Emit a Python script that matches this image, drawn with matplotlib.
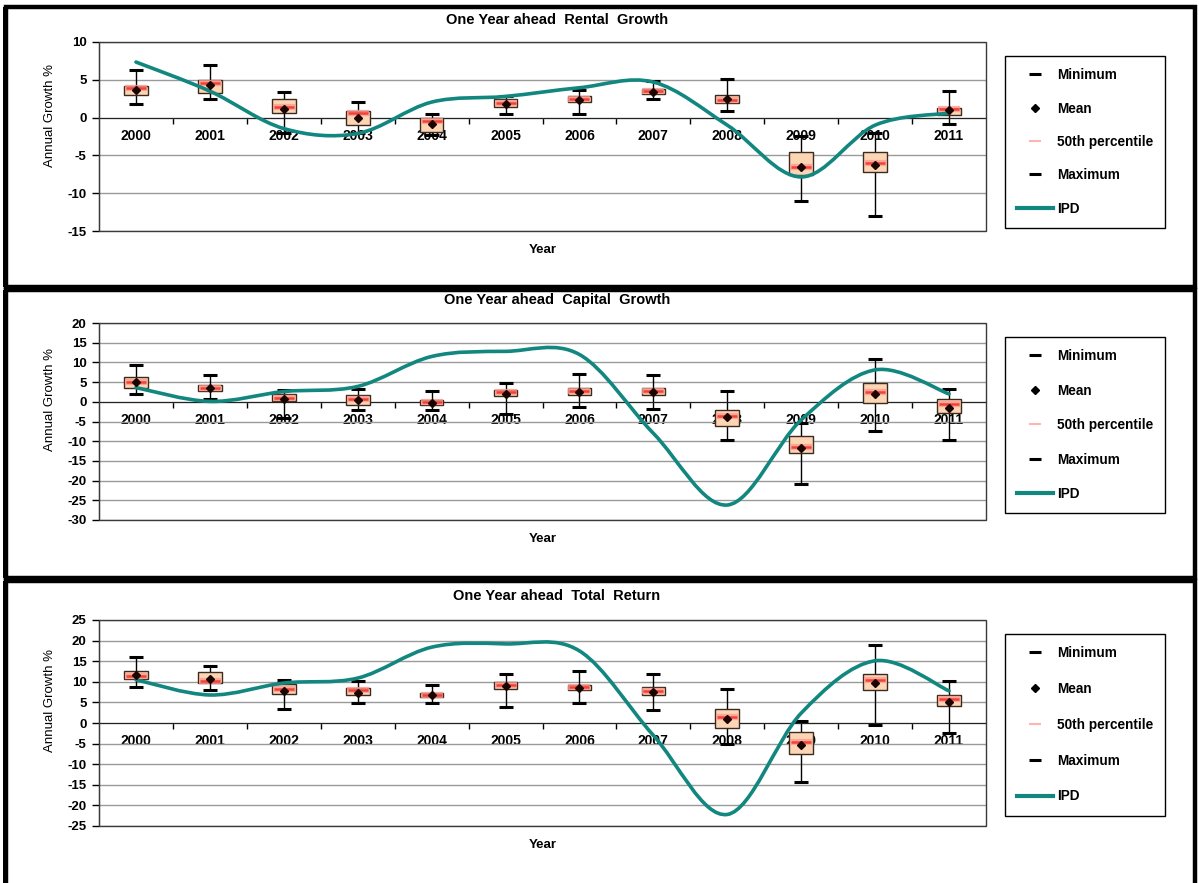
import numpy as np
import matplotlib
matplotlib.use("Agg")
import matplotlib.pyplot as plt
from matplotlib.path import Path
from matplotlib.patches import PathPatch, Rectangle
from matplotlib.lines import Line2D
from matplotlib import font_manager

# Data
years = ["2000", "2001", "2002", "2003", "2004", "2005",
         "2006", "2007", "2008", "2009", "2010", "2011"]

# Rental growth
rent_min  = [1.85, 2.4, -2.1, -2.0, -2.3, 0.45, 0.45, 2.4, 0.93, -11.0, -13.0, -0.9]
rent_q1   = [2.95, 3.3, 0.66, -0.97, -1.9, 1.4, 2.0, 3.1, 1.95, -7.6, -7.2, 0.35]
rent_med  = [3.9, 4.55, 1.45, 0.6, -0.5, 1.9, 2.4, 3.5, 2.3, -6.6, -6.0, 1.1]
rent_mean = [3.7, 4.3, 1.15, 0.0, -0.8, 1.85, 2.3, 3.45, 2.45, -6.5, -6.3, 1.0]
rent_q3   = [4.15, 5.0, 2.4, 0.85, -0.1, 2.4, 2.85, 3.8, 2.95, -4.5, -4.6, 1.3]
rent_max  = [6.35, 7.0, 3.35, 2.0, 0.53, 2.9, 3.6, 4.85, 5.1, -2.4, -2.0, 3.5]
rent_ipd  = [7.35, 3.5, -1.45, -2.1, 2.05, 2.8, 3.95, 4.7, -1.0, -7.85, -1.0, 0.6]

# Capital growth
cap_min  = [1.86, 0.8, -4.2, -2.2, -2.2, -3.1, -1.3, -1.8, -9.6, -20.8, -7.4, -9.6]
cap_q1   = [3.5, 2.8, 0.1, -0.85, -0.85, 1.45, 1.6, 1.6, -6.2, -13.1, -0.2, -2.9]
cap_med  = [5.0, 3.5, 0.9, 0.7, -0.1, 2.5, 2.7, 2.8, -3.5, -11.4, 2.4, -0.5]
cap_mean = [4.9, 3.4, 0.8, 0.4, -0.2, 2.1, 2.6, 2.5, -3.9, -11.6, 2.1, -1.6]
cap_q3   = [6.2, 4.2, 2.0, 1.6, 0.35, 3.1, 3.4, 3.5, -2.2, -8.6, 4.8, 0.6]
cap_max  = [9.3, 6.9, 3.05, 3.2, 2.8, 4.8, 7.0, 6.9, 2.8, -5.3, 10.8, 3.2]
cap_ipd  = [3.6, 0.1, 2.6, 3.9, 11.5, 12.8, 12.0, -8.0, -26.2, -4.6, 8.1, 2.0]

# Total return
tot_min  = [8.7, 7.9, 3.4, 4.8, 4.8, 4.0, 4.8, 3.2, -5.0, -14.3, -0.6, -2.4]
tot_q1   = [10.6, 9.7, 7.0, 6.7, 6.25, 8.2, 8.0, 6.7, -1.2, -7.6, 7.9, 4.2]
tot_med  = [11.3, 10.1, 8.2, 7.9, 6.9, 9.2, 8.7, 7.8, 1.4, -4.7, 10.4, 5.9]
tot_mean = [11.7, 10.7, 7.8, 7.4, 6.8, 9.0, 8.6, 7.5, 0.9, -5.4, 9.7, 5.0]
tot_q3   = [12.7, 12.3, 9.5, 8.6, 7.4, 10.0, 9.3, 8.8, 3.3, -2.1, 12.0, 6.9]
tot_max  = [16.1, 13.9, 10.5, 10.3, 9.3, 11.9, 12.7, 11.8, 8.2, 0.6, 18.9, 10.3]
tot_ipd  = [10.5, 6.8, 9.7, 10.9, 18.4, 19.2, 17.5, -3.0, -22.2, 2.4, 15.1, 7.8]

titles = ["One Year ahead  Rental  Growth",
          "One Year ahead  Capital  Growth",
          "One Year ahead  Total  Return"]
ylims = [(-15, 10), (-30, 20), (-25, 25)]

W, H = 1199, 883
TEAL = "#12877F"
PEACH = "#FCD5B4"

avail = {f.name for f in font_manager.fontManager.ttflist}
NARROW = "Liberation Sans Narrow" if "Liberation Sans Narrow" in avail else "Liberation Sans"
plt.rcParams["font.family"] = ["Liberation Sans", "DejaVu Sans"]
plt.rcParams["font.weight"] = "bold"
plt.rcParams["axes.unicode_minus"] = False


def fx(px):
    return px / W


def fy(py):
    return 1 - py / H


# Excel style smoothed line as bezier path
def smooth_path(xs, ys):
    pts = np.column_stack([xs, ys]).astype(float)
    n = len(pts)
    verts = [pts[0]]
    codes = [Path.MOVETO]
    for i in range(n - 1):
        p0 = pts[i - 1] if i > 0 else pts[i]
        p1 = pts[i]
        p2 = pts[i + 1]
        p3 = pts[i + 2] if i + 2 < n else pts[i + 1]
        verts += [p1 + (p2 - p0) / 6, p2 - (p3 - p1) / 6, p2]
        codes += [Path.CURVE4] * 3
    return Path(verts, codes)


fig = plt.figure(figsize=(W / 100, H / 100), dpi=100)

# pixel layout of each panel: frame top/bottom, plot top/bottom, title y, legend top
panels = [
    dict(frame=(7, 287), plot=(42, 231), title=20, leg=56, spacing=1.42),
    dict(frame=(290, 578), plot=(323, 520), title=300, leg=337, spacing=1.5),
    dict(frame=(581, 900), plot=(620, 826), title=596, leg=634, spacing=1.6),
]
series = [
    (rent_min, rent_q1, rent_med, rent_mean, rent_q3, rent_max, rent_ipd),
    (cap_min, cap_q1, cap_med, cap_mean, cap_q3, cap_max, cap_ipd),
    (tot_min, tot_q1, tot_med, tot_mean, tot_q3, tot_max, tot_ipd),
]

x = np.arange(len(years))
ax_left, ax_right = 99, 986

for k, p in enumerate(panels):
    f0, f1 = p["frame"]
    # panel frame
    fig.add_artist(Rectangle((fx(6), fy(f1)), fx(1195) - fx(6), (f1 - f0) / H,
                             transform=fig.transFigure, fill=False,
                             ec="black", lw=3.2))
    fig.add_artist(Rectangle((fx(3), fy(f1)), fx(5), (f1 - f0) / H,
                             transform=fig.transFigure, fc="black", ec="none"))

    t0, t1 = p["plot"]
    ax = fig.add_axes([fx(ax_left), fy(t1), fx(ax_right) - fx(ax_left), (t1 - t0) / H])
    mn, q1, med, mean, q3, mx, ipd = [np.array(s) for s in series[k]]

    ax.set_axisbelow(True)
    ax.yaxis.grid(True, color="#9A9A9A", lw=1)

    ax.vlines(x, mn, mx, color="black", lw=1, zorder=2)
    ax.bar(x, q3 - q1, bottom=q1, width=0.32, color=PEACH, edgecolor="#3B2A1E",
           lw=1, zorder=3)
    ax.plot(x, mn, ls="none", marker="_", ms=10, mew=2.2, color="black", zorder=3)
    ax.plot(x, mx, ls="none", marker="_", ms=10, mew=2.2, color="black", zorder=3)
    ax.plot(x, med, ls="none", marker="_", ms=16, mew=4.5, color="#FF9C92",
            alpha=0.8, zorder=4)
    ax.plot(x, med, ls="none", marker="_", ms=14, mew=1.8, color="#F0423A", zorder=4)
    ax.add_patch(PathPatch(smooth_path(x, ipd), fill=False, ec=TEAL, lw=2.6,
                           capstyle="round", zorder=5))
    ax.plot(x, mean, ls="none", marker="D", ms=4.2, color="#1A0500", zorder=6)

    lo, hi = ylims[k]
    ax.set_ylim(lo, hi)
    ax.set_xlim(-0.5, len(years) - 0.5)
    ax.set_yticks(np.arange(lo, hi + 1, 5))
    ax.tick_params(axis="y", direction="out", length=5, width=1, pad=4,
                   labelsize=9.5)

    ax.set_xticks(x)
    ax.set_xticklabels(years, fontsize=9.5)
    ax.set_xticks(x[:-1] + 0.5, minor=True)
    ax.tick_params(axis="x", which="major", length=0, pad=8)
    ax.tick_params(axis="x", which="minor", direction="out", length=4, width=1)

    ax.spines["bottom"].set_position(("data", 0))
    ax.spines["bottom"].set_color("#222222")
    ax.spines["left"].set_color("#222222")
    ax.spines["top"].set_visible(False)
    ax.spines["right"].set_visible(False)
    ax.add_patch(Rectangle((0, 0), 1, 1, transform=ax.transAxes, fill=False,
                           ec="#3A3A3A", lw=1, clip_on=False, zorder=7))

    ax.set_ylabel("Annual Growth %", family=NARROW, fontsize=9.5,
                  fontweight="normal")
    ax.yaxis.set_label_coords(-0.048, 0.61)
    ax.set_xlabel("Year", fontsize=9.5, fontweight="bold")
    ax.xaxis.set_label_coords(0.5, -13 / (t1 - t0))

    fig.text(fx(557), fy(p["title"]), titles[k], ha="center", va="center",
             fontsize=10.5)

    handles = [
        Line2D([], [], ls="none", marker="_", ms=9, mew=2.2, color="black"),
        Line2D([], [], ls="none", marker="D", ms=4.5, color="black"),
        Line2D([], [], ls="none", marker="_", ms=9, mew=1.5, color="#FFB4B0"),
        Line2D([], [], ls="none", marker="_", ms=9, mew=2.2, color="black"),
        Line2D([], [], color=TEAL, lw=3),
    ]
    labels = ["Minimum", "Mean", "50th percentile", "Maximum", "IPD"]
    leg = ax.legend(handles, labels, loc="upper left",
                    bbox_to_anchor=(fx(1005), fy(p["leg"])),
                    bbox_transform=fig.transFigure, borderaxespad=0,
                    frameon=True, fancybox=False, framealpha=1,
                    edgecolor="black", handlelength=2.6, handletextpad=0.3,
                    labelspacing=p["spacing"], borderpad=0.9,
                    prop={"weight": "bold", "size": 9.8})
    leg.get_frame().set_linewidth(1)

fig.savefig("out.png", dpi=100, facecolor="white")
